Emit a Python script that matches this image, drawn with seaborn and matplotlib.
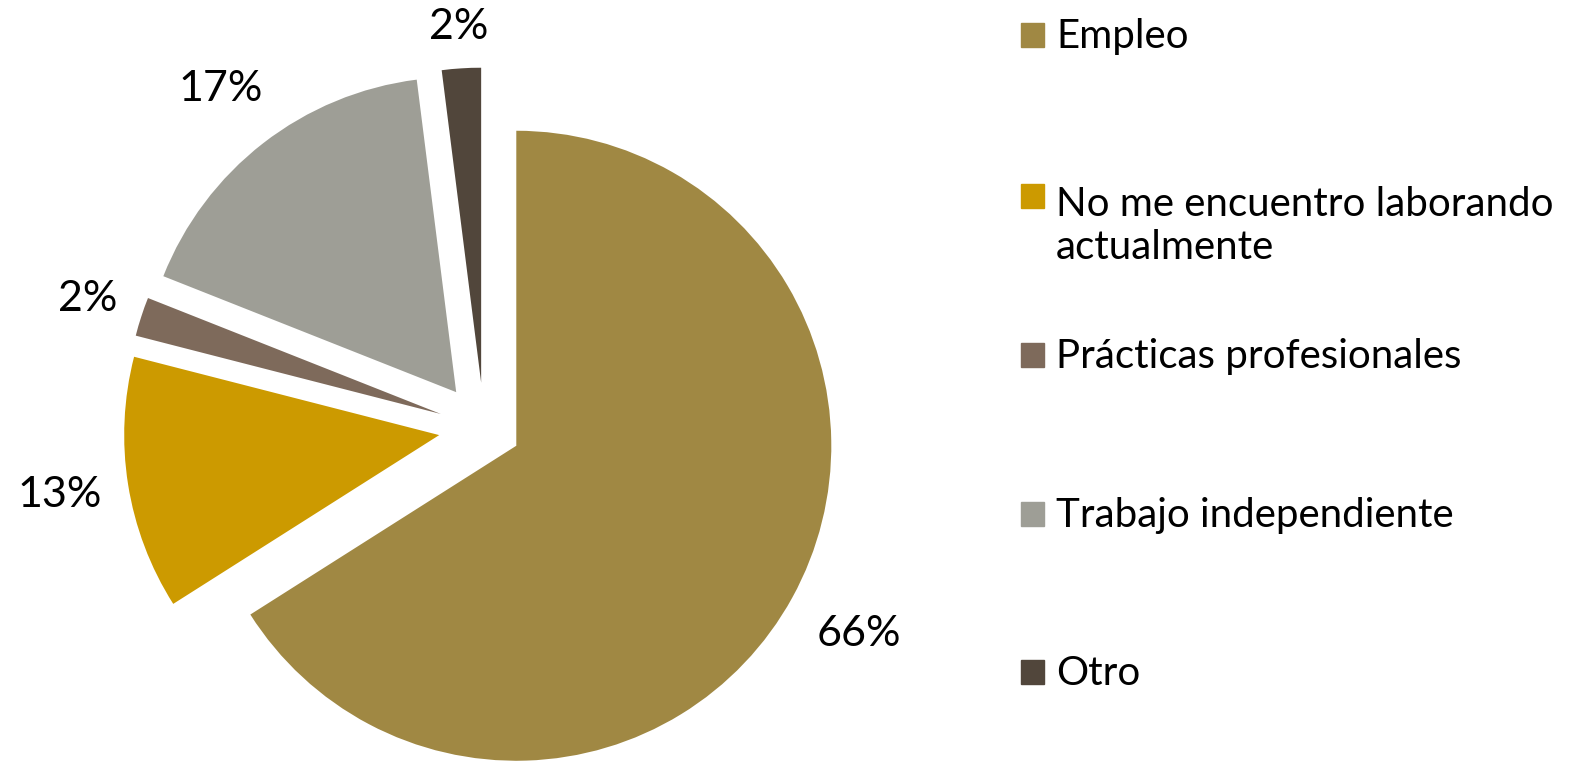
import numpy as np
import matplotlib.pyplot as plt
import seaborn as sns
from matplotlib.patches import Rectangle

categories = ["Empleo", "No me encuentro laborando\nactualmente", "Prácticas profesionales",
              "Trabajo independiente", "Otro"]
values = [66, 13, 2, 17, 2]
colors = ["#A08843", "#CC9A00", "#7E6A5B", "#9E9E96", "#51463B"]
explode = [0.117, 0.144, 0.144, 0.144, 0.144]
label_dist = [1.24, 1.22, 1.18, 1.22, 1.13]

sns.set_theme(style="white")
plt.rcParams["font.family"] = ["Lato", "DejaVu Sans"]
plt.rcParams["text.color"] = "black"

W, H = 1580, 765
fig = plt.figure(figsize=(W / 100, H / 100), dpi=100)
ax = fig.add_axes([0, 0, 1, 1])

wedges, texts, autotexts = ax.pie(values, colors=colors, explode=explode, startangle=90,
                                  counterclock=False, autopct="%1.0f%%", pctdistance=1.2,
                                  wedgeprops=dict(linewidth=0))
# put each percent label at its own distance along the wedge's mid angle
for w, t, d in zip(wedges, autotexts, label_dist):
    mid = np.deg2rad((w.theta1 + w.theta2) / 2)
    cx, cy = w.center
    t.set_position((cx + d * w.r * np.cos(mid), cy + d * w.r * np.sin(mid)))
    t.set_fontsize(31)
    t.set_color("black")

# pie centre sits at pixel (484, 428), radius 315 px
r = 315
ax.set_xlim(-484 / r, (W - 484) / r)
ax.set_ylim(-(H - 428) / r, 428 / r)
ax.set_aspect("auto")
ax.axis("off")

# legend drawn by hand so the 2-line entry keeps its square on the first line
sq_y = [35, 196, 355, 514, 672]
base_y = [48, 259, 368, 527, 685]
for lab, col, sy, by in zip(categories, colors, sq_y, base_y):
    fig.patches.append(Rectangle((1021 / W, 1 - (sy + 12) / H), 23 / W, 24 / H,
                                 transform=fig.transFigure, color=col))
    fig.text(1056 / W, 1 - by / H, lab, fontsize=29, va="baseline", ha="left",
             linespacing=1.2)

fig.savefig("out.png", dpi=100)
